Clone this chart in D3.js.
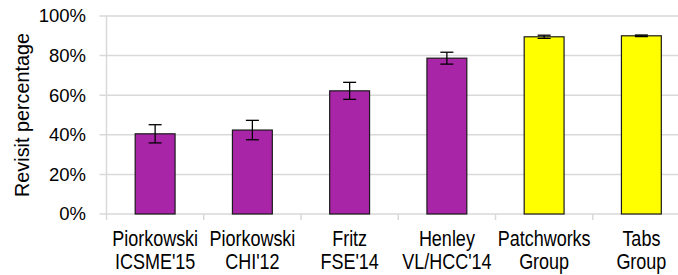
<!DOCTYPE html>
<html>
<head>
<meta charset="utf-8">
<script src="https://cdn.jsdelivr.net/npm/d3@7"></script>
<style>
  body { margin: 0; background: #fff; }
  svg text { font-family: "Liberation Sans", Arial, sans-serif; fill: #000; }
</style>
</head>
<body>
<svg id="chart" width="678" height="275"></svg>
<script>
// data
var categories = [
    ['Piorkowski', "ICSME'15"],
    ['Piorkowski', "CHI'12"],
    ['Fritz', "FSE'14"],
    ['Henley', "VL/HCC'14"],
    ['Patchworks', 'Group'],
    ['Tabs', 'Group']
];
var revisitPct = [40.5, 42.4, 62.2, 78.7, 89.5, 90.0];
var errorPct = [4.6, 4.9, 4.3, 3.0, 0.8, 0.4];
var isOurs = [false, false, false, false, true, true];
var yTicks = [0, 20, 40, 60, 80, 100];

var svg = d3.select('#chart');

var plotLeft = 106.5, plotRight = 690, plotTop = 16, plotBottom = 214;

var x = d3.scaleBand()
    .domain(d3.range(categories.length))
    .range([plotLeft, plotRight])
    .paddingInner(0.59)
    .paddingOuter(0.295);

var y = d3.scaleLinear().domain([0, 100]).range([plotBottom, plotTop]);

// gridlines
svg.append('g')
    .selectAll('line')
    .data(yTicks.slice(1))
    .enter().append('line')
    .attr('x1', plotLeft - 7).attr('x2', 678)
    .attr('y1', function (d) { return y(d); })
    .attr('y2', function (d) { return y(d); })
    .attr('stroke', '#d9d9d9')
    .attr('stroke-width', 1.5);

// y axis line
svg.append('line')
    .attr('x1', plotLeft).attr('x2', plotLeft)
    .attr('y1', plotTop).attr('y2', plotBottom)
    .attr('stroke', '#d9d9d9').attr('stroke-width', 1.5);

// x axis line
svg.append('line')
    .attr('x1', plotLeft - 7).attr('x2', 678)
    .attr('y1', plotBottom).attr('y2', plotBottom)
    .attr('stroke', '#d9d9d9').attr('stroke-width', 1.5);

// category separators under the axis
svg.append('g')
    .selectAll('line')
    .data(d3.range(categories.length + 1))
    .enter().append('line')
    .attr('x1', function (i) { return plotLeft + i * x.step(); })
    .attr('x2', function (i) { return plotLeft + i * x.step(); })
    .attr('y1', plotBottom).attr('y2', plotBottom + 6)
    .attr('stroke', '#d9d9d9').attr('stroke-width', 1.5);

// y tick labels
svg.append('g')
    .selectAll('text')
    .data(yTicks)
    .enter().append('text')
    .attr('x', 86)
    .attr('y', function (d) { return y(d); })
    .attr('dy', '0.35em')
    .attr('text-anchor', 'end')
    .style('font-size', '18.5px')
    .text(function (d) { return d + '%'; });

// y title
svg.append('text')
    .attr('transform', 'translate(29,' + ((plotTop + plotBottom) / 2) + ') rotate(-90)')
    .attr('text-anchor', 'middle')
    .style('font-size', '19.8px')
    .text('Revisit percentage');

// bars
svg.append('g')
    .selectAll('rect')
    .data(revisitPct)
    .enter().append('rect')
    .attr('x', function (d, i) { return x(i); })
    .attr('width', x.bandwidth())
    .attr('y', function (d) { return y(d); })
    .attr('height', function (d) { return plotBottom - y(d); })
    .attr('fill', function (d, i) { return isOurs[i] ? '#ffff00' : '#a825a8'; })
    .attr('stroke', '#1a1a1a')
    .attr('stroke-width', 1.2);

// error bars
var err = svg.append('g').selectAll('g')
    .data(revisitPct)
    .enter().append('g')
    .attr('stroke', '#000')
    .attr('stroke-width', 1.3);

function cx(i) { return x(i) + x.bandwidth() / 2; }

err.append('line')
    .attr('x1', function (d, i) { return cx(i); })
    .attr('x2', function (d, i) { return cx(i); })
    .attr('y1', function (d, i) { return y(d - errorPct[i]); })
    .attr('y2', function (d, i) { return y(d + errorPct[i]); });
[-1, 1].forEach(function (s) {
    err.append('line')
        .attr('x1', function (d, i) { return cx(i) - 6.5; })
        .attr('x2', function (d, i) { return cx(i) + 6.5; })
        .attr('y1', function (d, i) { return y(d + s * errorPct[i]); })
        .attr('y2', function (d, i) { return y(d + s * errorPct[i]); });
});

// category labels: tall, narrow glyphs in the picture
var lab = svg.append('g')
    .selectAll('g')
    .data(categories)
    .enter().append('g')
    .attr('transform', function (d, i) { return 'translate(' + cx(i) + ',0) scale(0.8,1)'; });

lab.append('text')
    .attr('text-anchor', 'middle')
    .style('font-size', '22.5px')
    .attr('y', 246.5)
    .text(function (d) { return d[0]; });
lab.append('text')
    .attr('text-anchor', 'middle')
    .style('font-size', '22.5px')
    .attr('y', 269)
    .text(function (d) { return d[1]; });
</script>
</body>
</html>
